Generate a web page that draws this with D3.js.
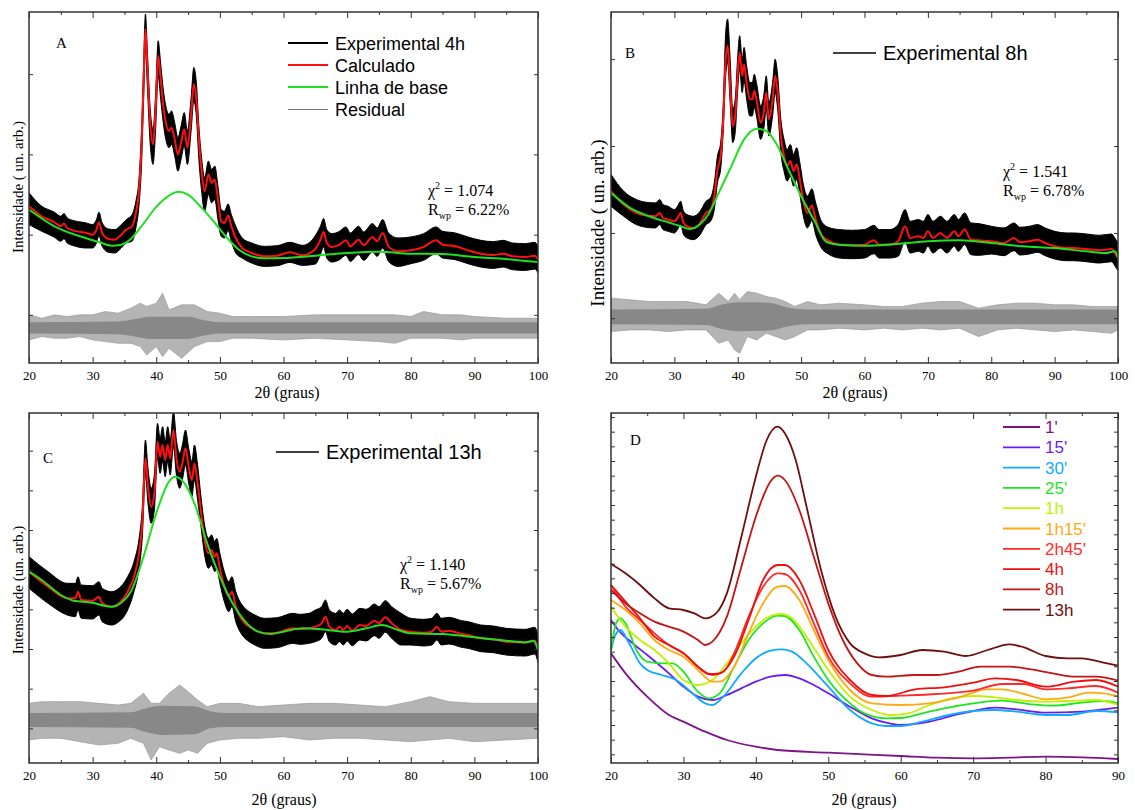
<!DOCTYPE html>
<html>
<head>
<meta charset="utf-8">
<script src="https://cdn.jsdelivr.net/npm/d3@7"></script>
<style>
  body { margin: 0; background: #fff; }
  text { fill: #000; }
</style>
</head>
<body>
<svg id="fig" width="1135" height="810"></svg>
<script>
// ---- panel A (4h) ----
const calcA = [[20,469],[22,439],[24,421],[25,409],[25.5,417],[26,404],[27,396],[29,389],[30,384],[30.6,399],[31,421],[31.5,389],[32.5,371],[33.5,369],[34.5,384],[35.3,399],[36.2,409],[36.8,449],[37.3,519],[37.7,659],[38.0,839],[38.3,999],[38.6,889],[39.0,729],[39.5,654],[39.9,759],[40.3,919],[40.7,849],[41.1,769],[41.5,719],[42.0,694],[42.4,704],[42.9,669],[43.4,624],[43.9,659],[44.4,699],[44.9,644],[45.5,749],[45.9,834],[46.3,789],[46.7,669],[47.1,579],[47.6,514],[48.2,564],[48.7,539],[49.2,549],[49.7,489],[50.2,424],[50.7,419],[51.3,441],[51.8,409],[52.5,374],[53.5,344],[55,329],[57,319],[59,321],[61,331],[63,322],[65,341],[65.8,369],[66.3,392],[66.8,359],[67.6,347],[68.8,354],[69.8,367],[70.5,349],[71.8,369],[72.6,352],[74,377],[74.7,364],[75.6,389],[76.5,349],[78,334],[80,337],[82,347],[84,367],[85,354],[87,349],[89,337],[91,327],[93,323],[94.5,327],[96,319],[98,317],[99.5,321],[100,309]];
const baseA = [[20,459],[24,409],[28,379],[31,362],[33,351],[34.5,354],[36,371],[38,417],[40,467],[42,501],[43.5,512],[45,504],[47,467],[49,424],[51,377],[53,339],[55,319],[57,313],[60,314],[65,321],[70,329],[75,333],[80,327],[85,326],[90,317],[95,311],[100,302]];
// spread of the measured (noisy) trace around the fit: [from 2theta, above, below]
const expSpreadA = [[20,40,55],[21,30,45],[30,30,40],[36,35,45],[37.5,45,60],[41,50,50],[46.5,40,60],[50,35,45],[53,30,30],[65,40,45],[80,40,40]];
const residA = [[20,144,69],[22,134,79],[24,144,74],[26,139,74],[28,144,79],[30,144,69],[32,154,64],[34,149,59],[36,164,59],[37.5,179,49],[38.5,169,24],[40,179,49],[41,209,19],[42,159,44],[44,174,14],[46,174,49],[48,154,64],[50,149,64],[52,139,74],[55,139,74],[60,139,69],[65,144,74],[70,144,69],[75,144,64],[77.5,144,59],[80,139,74],[82,154,74],[85,144,74],[88,144,69],[90,139,74],[95,134,74],[100,134,74]];
const residCoreA = [[20,122,88],[34,124,86],[37,132,78],[39,138,72],[45,138,72],[47,130,80],[50,122,88],[100,122,88]];

// ---- panel B (8h) ----
const calcB = [[20,514],[22,474],[24,449],[25.5,441],[27,439],[27.7,449],[28.2,434],[29,429],[30,424],[30.5,434],[31,449],[31.4,421],[32,409],[33,404],[34,417],[35,449],[35.7,459],[36.3,499],[36.8,579],[37.3,619],[37.7,729],[38.1,909],[38.4,949],[38.8,829],[39.2,709],[39.6,739],[40.0,869],[40.3,929],[40.7,859],[41.0,894],[41.4,839],[41.9,789],[42.3,789],[42.6,814],[43.0,784],[43.6,719],[44.1,749],[44.5,809],[44.9,729],[45.5,789],[45.9,859],[46.3,809],[46.8,679],[47.3,619],[47.8,589],[48.3,604],[48.8,574],[49.3,594],[49.8,549],[50.3,489],[51.0,449],[51.7,471],[52.3,429],[53.2,384],[54.3,366],[56,354],[58,352],[60,354],[61.5,367],[62.3,354],[64,354],[65.3,364],[66.4,409],[67.2,374],[68.5,379],[69.3,374],[70,394],[70.8,374],[72,389],[73,374],[74.2,394],[74.8,379],[75.8,399],[76.8,369],[78,367],[80,364],[82,359],[83.6,374],[84.5,361],[86,364],[87.3,369],[88.5,359],[90,349],[92,344],[93,344],[95,341],[97,337],[99,341],[99.5,329],[100,314]];
const baseB = [[20,509],[23,464],[26,439],[29,421],[31,409],[32.5,401],[34,414],[35.5,449],[37,509],[39,589],[41,669],[43,701],[44.5,694],[46,659],[48,579],[50,499],[52,429],[54,362],[56,354],[60,351],[65,356],[70,364],[75,367],[80,359],[85,349],[90,344],[95,334],[98,329],[99.5,334],[100,314]];
const expSpreadB = [[20,50,45],[22,40,35],[30,35,35],[36,40,40],[38,80,50],[39,50,50],[47,50,45],[53,40,40],[56,45,40],[65,50,45],[80,45,38]];
const residB = [[20,194,94],[23,189,99],[26,184,99],[29,184,94],[32,184,99],[35,174,99],[37,209,59],[38.5,184,69],[39.5,209,39],[40.3,189,29],[41.5,214,79],[43,209,69],[44.5,199,89],[46,194,79],[47.5,184,69],[49,169,79],[51,184,99],[53,174,99],[56,179,104],[60,174,99],[63,169,104],[66,169,99],[69,179,104],[72,184,99],[75,184,104],[78,164,79],[81,174,99],[84,179,104],[87,179,99],[90,174,94],[93,174,99],[96,169,94],[99,169,89],[100,169,99]];
const residCoreB = [[20,160,116],[35,162,114],[37.5,175,102],[40,182,95],[45,180,97],[48,165,110],[51,160,116],[100,160,116]];

// ---- panel C (13h) ----
const calcC = [[20,574],[23,529],[26,494],[27.3,494],[27.7,514],[28.2,489],[30,487],[31,499],[31.5,479],[33,469],[34,477],[35.5,514],[36.5,559],[37.3,629],[37.8,719],[38.3,914],[38.7,829],[39.2,769],[39.7,809],[40.2,964],[40.6,919],[41.0,954],[41.4,909],[41.8,954],[42.2,914],[42.7,999],[43.2,909],[43.7,874],[44.1,899],[44.6,944],[45.1,889],[45.6,849],[46.0,899],[46.5,839],[47.0,759],[47.6,669],[48.2,629],[48.7,639],[49.2,619],[49.5,629],[50.0,584],[50.7,529],[51.4,499],[51.9,514],[52.5,469],[53.5,429],[54.6,409],[55.5,399],[57,389],[59,391],[61.5,404],[62.5,401],[64,404],[65,409],[66,419],[66.6,439],[67.2,409],[68.2,399],[68.8,409],[69.4,399],[70,411],[70.8,397],[72,414],[73,411],[74.3,427],[75,419],[76,437],[77,419],[78.5,399],[80,394],[82,391],[83.3,394],[84.1,409],[84.8,394],[86,397],[88,387],[89,384],[91,374],[93,371],[95,364],[98,361],[99.5,367],[100,341]];
const baseC = [[20,574],[22,549],[25,504],[27,487],[30,481],[32,471],[33,469],[34.5,481],[36,514],[38,619],[40,749],[42,844],[43,859],[44,849],[46,779],[48,659],[50,559],[52,479],[54,424],[56,394],[58,387],[60,394],[63,404],[66,401],[70,394],[73,404],[75.5,414],[78,399],[80,389],[85,387],[90,377],[95,367],[98,362],[99.3,367],[100,339]];
const expSpreadC = [[20,45,50],[27,45,55],[36,45,45],[38,55,50],[47,45,45],[53,45,45],[65,50,45],[80,40,40]];
const residC = [[20,179,69],[22,184,74],[25,184,74],[28,184,64],[31,179,54],[34,174,59],[36,179,74],[38,209,59],[39.2,179,9],[40.5,179,49],[42,209,39],[43.7,234,29],[45,214,39],[46.5,189,29],[48,169,59],[50,179,69],[53,179,74],[56,169,74],[60,174,79],[64,179,69],[68,179,74],[72,174,74],[76,169,69],[80,184,64],[83,199,69],[86,184,74],[90,179,64],[95,179,69],[100,179,74]];
const residCoreC = [[20,150,108],[36,152,106],[38.5,165,92],[41,172,84],[46,170,86],[48.5,155,104],[51,150,108],[100,150,108]];

// ---- panel D: fitted baselines for every reaction time ----
const timeLabels = ["1'", "15'", "30'", "25'", "1h", "1h15'", "2h45'", "4h", "8h", "13h"];
const timeColors = ["#7d1487", "#6a1cf5", "#12aaff", "#1ee61e", "#c2f000", "#ffaa10", "#ff2b2b", "#ee1010", "#c41414", "#6e0f0f"];
const base1m = [[20,329],[22,269],[25,199],[28,144],[30,124],[33,94],[36,69],[40,49],[43,39],[50,31],[60,21],[65,16],[70,14],[75,16],[80,19],[85,17],[90,12]];
const base15m = [[20,429],[21,399],[23,359],[25,324],[28,269],[30,229],[32,199],[34,189],[36,204],[38,224],[40,244],[42,259],[44,264],[46,254],[48,234],[50,209],[53,169],[56,134],[58,121],[60,114],[64,124],[68,147],[70,156],[73,166],[76,161],[80,151],[85,154],[88,161],[90,166]];
const base30m = [[20,339],[20.5,379],[21.3,399],[22.5,359],[24,299],[25,279],[27,264],[29,249],[31,214],[33,179],[34,174],[35.5,199],[38,269],[40,314],[42,337],[43.5,341],[45,334],[47,299],[50,229],[53,159],[56,119],[58,111],[60,111],[63,124],[66,141],[70,156],[73,159],[76,154],[80,144],[83,144],[87,156],[90,152]];
const base25m = [[20,339],[20.7,419],[21.3,434],[22,419],[23.5,339],[25,304],[27,299],[28.5,299],[30,274],[32,214],[33.5,194],[35,209],[37,289],[39,369],[41,419],[43,442],[44,441],[46,399],[48,319],[50,249],[53,179],[55,149],[58,134],[60,135],[63,149],[66,164],[70,179],[74,187],[78,176],[81,172],[85,181],[88,186],[90,179]];
const base1h = [[20,469],[22,409],[24,369],[26,339],[28,299],[30,249],[32,234],[34,249],[36,299],[38,359],[40,409],[42,441],[43.5,447],[45,434],[47,379],[50,279],[53,199],[56,159],[58.5,144],[61,149],[64,174],[67,194],[70,201],[73,197],[76,189],[80,184],[83,186],[87,189],[90,174]];
const base1h15 = [[20,489],[22,459],[24,419],[26,369],[28,339],[30,319],[32,279],[34,244],[35,244],[37,289],[39,389],[41,479],[43,529],[44,531],[46,489],[48,399],[50,309],[53,219],[56,179],[60,174],[64,179],[68,197],[72,221],[74,221],[77,207],[80,191],[83,196],[86,211],[88,209],[90,199]];
const base2h45 = [[20,534],[22,469],[24,429],[26,389],[28,354],[30,329],[32,289],[34,264],[35.5,274],[37,329],[39,439],[41,529],[43,569],[44,567],[46,519],[48,419],[50,319],[53,239],[56,199],[60,202],[65,207],[70,217],[74,237],[77,237],[80,221],[83,224],[87,231],[90,211]];
const base4h = [[20,534],[22,484],[24,434],[26,379],[28,354],[30,329],[32,289],[33.5,267],[35,269],[37,319],[39,429],[41,549],[43,594],[44,594],[46,549],[48,449],[50,339],[53,249],[56,204],[58,201],[62,221],[66,227],[70,241],[73,254],[76,249],[80,229],[84,244],[87,249],[90,229]];
const base8h = [[20,519],[22,479],[24,449],[26,424],[28,409],[30,394],[32,369],[33,354],[34,364],[36,439],[38,589],[40,739],[42,844],[43,862],[44,849],[46,759],[48,619],[50,479],[52,369],[54,299],[56,264],[58,259],[62,264],[65,264],[68,274],[71,289],[75,289],[78,281],[81,269],[84,259],[87,259],[90,247]];
const base13h = [[20,597],[22,569],[24,534],[26,494],[28,464],[30,459],[31.5,449],[33,434],[34.5,449],[36,509],[38,679],[40,859],[41.5,969],[43,1009],[44,989],[45.5,909],[47,769],[49,579],[51,439],[53,359],[55,329],[57,317],[60,324],[63,339],[66,334],[69,321],[72,339],[75,356],[77,347],[80,321],[83,314],[85,314],[88,301],[90,292]];
const baselinesD = [base1m, base15m, base30m, base25m, base1h, base1h15, base2h45, base4h, base8h, base13h];

const svg = d3.select("#fig");
const serif = "'Liberation Serif', 'Times New Roman', serif";
const sans = "'Liberation Sans', Arial, sans-serif";

const panels = [
  { id: "A", left: 29, right: 538, top: 12, bottom: 363, xMax: 100,
    calc: calcA, base: baseA, spread: expSpreadA, resid: residA, core: residCoreA,
    yTicks: [144, 384, 624, 864], letter: [56, 48], stats: ["1.074", "6.22%"], statsAt: [428, 196],
    xTitleAt: [287, 398], yTitleAt: [18, 187], yTitle: "Intensidade ( un. arb.)", yTitleSize: 15 },
  { id: "B", left: 611, right: 1118, top: 12, bottom: 363, xMax: 100,
    calc: calcB, base: baseB, spread: expSpreadB, resid: residB, core: residCoreB,
    yTicks: [134, 389, 649, 909], letter: [625, 58], stats: ["1.541", "6.78%"], statsAt: [1003, 177],
    xTitleAt: [855, 398], yTitleAt: [597, 223], yTitle: "Intensidade ( un. arb.)", yTitleSize: 19 },
  { id: "C", left: 29, right: 538, top: 413, bottom: 763, xMax: 100,
    calc: calcC, base: baseC, spread: expSpreadC, resid: residC, core: residCoreC,
    yTicks: d3.range(104, 1050, 119), letter: [43, 463], stats: ["1.140", "5.67%"], statsAt: [400, 570],
    xTitleAt: [284, 805], yTitleAt: [18, 590], yTitle: "Intensidade (un. arb.)", yTitleSize: 15 },
  { id: "D", left: 611, right: 1118, top: 413, bottom: 763, xMax: 90,
    yTicks: d3.range(26, 1050, 44), letter: [630, 445], xTitleAt: [864, 805] }
];

function spreadAt(spread, xv) {
  let s = spread[0];
  for (const r of spread) if (xv >= r[0]) s = r;
  return s;
}

function drawFrame(p, x, y) {
  const g = svg.append("g").attr("class", "frame-" + p.id);
  const major = d3.range(20, p.xMax + 1, 10);
  const minor = d3.range(25, p.xMax, 10);

  const bottom = g.append("g")
    .attr("transform", `translate(0,${p.bottom})`)
    .call(d3.axisBottom(x).tickValues(major).tickSizeInner(-6).tickSizeOuter(0).tickPadding(8).tickFormat(d3.format("d")));
  bottom.selectAll("text").attr("font-family", serif).attr("font-size", 13).attr("fill", "#000");
  g.append("g")
    .attr("transform", `translate(0,${p.bottom})`)
    .call(d3.axisBottom(x).tickValues(minor).tickSizeInner(-3).tickSizeOuter(0).tickFormat(""));
  g.append("g")
    .attr("transform", `translate(0,${p.top})`)
    .call(d3.axisTop(x).tickValues(major).tickSizeInner(-6).tickSizeOuter(0).tickFormat(""));
  g.append("g")
    .attr("transform", `translate(0,${p.top})`)
    .call(d3.axisTop(x).tickValues(minor).tickSizeInner(-3).tickSizeOuter(0).tickFormat(""));
  g.append("g")
    .attr("transform", `translate(${p.left},0)`)
    .call(d3.axisLeft(y).tickValues(p.yTicks).tickSizeInner(-4).tickSizeOuter(0).tickFormat(""));
  g.append("g")
    .attr("transform", `translate(${p.right},0)`)
    .call(d3.axisRight(y).tickValues(p.yTicks).tickSizeInner(-4).tickSizeOuter(0).tickFormat(""));

  g.selectAll(".domain").remove();
  g.selectAll(".tick line").attr("stroke", "#333").attr("stroke-width", 1);

  g.append("rect")
    .attr("x", p.left).attr("y", p.top)
    .attr("width", p.right - p.left).attr("height", p.bottom - p.top)
    .attr("fill", "none").attr("stroke", "#333").attr("stroke-width", 1.5);

  g.append("text")
    .attr("x", p.xTitleAt[0]).attr("y", p.xTitleAt[1])
    .attr("text-anchor", "middle")
    .attr("font-family", serif).attr("font-size", 16)
    .text("2θ (graus)");

  if (p.yTitle) {
    g.append("text")
      .attr("transform", `translate(${p.yTitleAt[0]},${p.yTitleAt[1]}) rotate(-90)`)
      .attr("text-anchor", "middle")
      .attr("dominant-baseline", "central")
      .attr("font-family", serif).attr("font-size", p.yTitleSize)
      .text(p.yTitle);
  }

  g.append("text")
    .attr("x", p.letter[0]).attr("y", p.letter[1])
    .attr("font-family", serif).attr("font-size", 15)
    .text(p.id);
}

function drawRefinement(p) {
  const x = d3.scaleLinear().domain([20, p.xMax]).range([p.left, p.right]);
  const y = d3.scaleLinear().domain([0, 1050]).range([p.bottom, p.top]);

  svg.append("clipPath").attr("id", "clip" + p.id)
    .append("rect")
    .attr("x", p.left).attr("y", p.top)
    .attr("width", p.right - p.left).attr("height", p.bottom - p.top);

  const plot = svg.append("g").attr("clip-path", `url(#clip${p.id})`);

  const band = d3.area()
    .x(d => x(d[0])).y0(d => y(d[2])).y1(d => y(d[1]))
    .curve(d3.curveMonotoneX);
  const residBand = d3.area()
    .x(d => x(d[0])).y0(d => y(d[2])).y1(d => y(d[1]));
  const line = d3.line()
    .x(d => x(d[0])).y(d => y(d[1]))
    .curve(d3.curveMonotoneX);

  plot.append("path").datum(p.resid)
    .attr("d", residBand).attr("fill", "#b4b4b4").attr("stroke", "#999").attr("stroke-width", 0.7);
  plot.append("path").datum(p.core)
    .attr("d", residBand.curve(d3.curveMonotoneX)).attr("fill", "#888");

  const exp = p.calc.map(d => {
    const s = spreadAt(p.spread, d[0]);
    return [d[0], d[1] + s[1], d[1] - s[2]];
  });
  plot.append("path").datum(exp)
    .attr("d", band).attr("fill", "#000").attr("stroke", "#000").attr("stroke-width", 1);

  plot.append("path").datum(p.calc)
    .attr("d", line).attr("fill", "none").attr("stroke", "#ff1010").attr("stroke-width", 2);
  plot.append("path").datum(p.base)
    .attr("d", line).attr("fill", "none").attr("stroke", "#1fe01f").attr("stroke-width", 2);

  drawFrame(p, x, y);

  const st = svg.append("text")
    .attr("x", p.statsAt[0]).attr("y", p.statsAt[1])
    .attr("font-family", serif).attr("font-size", 16);
  st.append("tspan").text("χ");
  st.append("tspan").attr("dy", -7).attr("font-size", 10).text("2");
  st.append("tspan").attr("dy", 7).text(" = " + p.stats[0]);
  const rw = svg.append("text")
    .attr("x", p.statsAt[0]).attr("y", p.statsAt[1] + 19)
    .attr("font-family", serif).attr("font-size", 16);
  rw.append("tspan").text("R");
  rw.append("tspan").attr("dy", 4).attr("font-size", 10).text("wp");
  rw.append("tspan").attr("dy", -4).text(" = " + p.stats[1]);
}

function drawBaselines(p) {
  const x = d3.scaleLinear().domain([20, p.xMax]).range([p.left, p.right]);
  const y = d3.scaleLinear().domain([0, 1050]).range([p.bottom, p.top]);
  const line = d3.line()
    .x(d => x(d[0])).y(d => y(d[1]))
    .curve(d3.curveMonotoneX);

  svg.append("g").selectAll("path")
    .data(baselinesD)
    .join("path")
    .attr("d", line)
    .attr("fill", "none")
    .attr("stroke", (d, i) => timeColors[i])
    .attr("stroke-width", 1.8);

  drawFrame(p, x, y);

  const leg = svg.append("g").selectAll("g")
    .data(timeLabels)
    .join("g")
    .attr("transform", (d, i) => `translate(1003,${427 + i * 20.3})`);
  leg.append("line")
    .attr("x1", 0).attr("x2", 37)
    .attr("stroke", (d, i) => timeColors[i]).attr("stroke-width", 1.8);
  leg.append("text")
    .attr("x", 42).attr("y", 6)
    .attr("font-family", sans).attr("font-size", 17)
    .style("fill", (d, i) => timeColors[i])
    .text(d => d);
}

panels.slice(0, 3).forEach(drawRefinement);
drawBaselines(panels[3]);

// legends of the refinement panels
const legendA = [["Experimental 4h", "#000", 2], ["Calculado", "#ff1010", 2], ["Linha de base", "#1fe01f", 2], ["Residual", "#707070", 1]];
const legA = svg.append("g").selectAll("g")
  .data(legendA)
  .join("g")
  .attr("transform", (d, i) => `translate(288,${43 + i * 22})`);
legA.append("line")
  .attr("x1", 0).attr("x2", 40)
  .attr("y1", d => d[2] === 1 ? 0.5 : 0).attr("y2", d => d[2] === 1 ? 0.5 : 0)
  .attr("stroke", d => d[1]).attr("stroke-width", d => d[2]);
legA.append("text")
  .attr("x", 47).attr("y", 6.5)
  .attr("font-family", sans).attr("font-size", 18)
  .text(d => d[0]);

[["Experimental 8h", 833, 53], ["Experimental 13h", 276, 452]].forEach(([label, lx, ly]) => {
  svg.append("line")
    .attr("x1", lx).attr("x2", lx + 43).attr("y1", ly).attr("y2", ly)
    .attr("stroke", "#000").attr("stroke-width", 1.5);
  svg.append("text")
    .attr("x", lx + 50).attr("y", ly + 7)
    .attr("font-family", sans).attr("font-size", 20)
    .text(label);
});
</script>
</body>
</html>
